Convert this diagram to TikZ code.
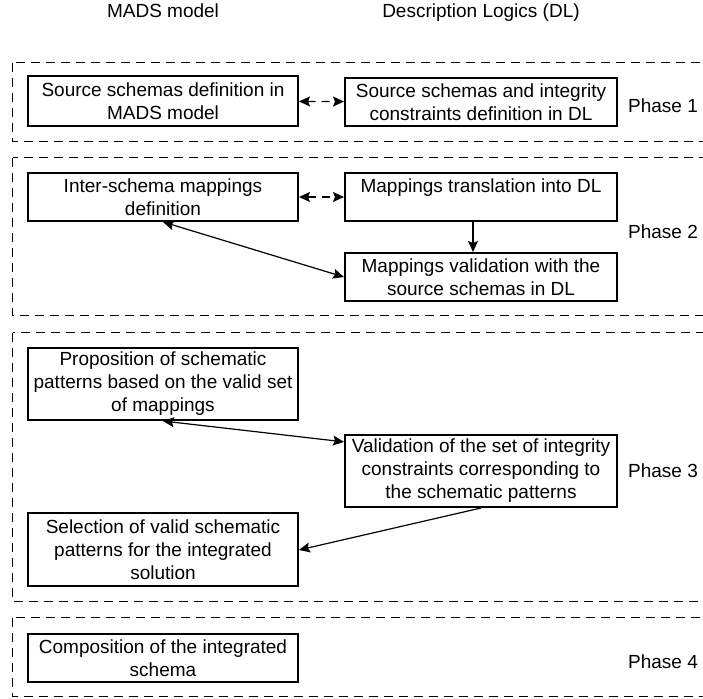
\documentclass[tikz,border=0pt]{standalone}
\usepackage{fontspec}
\setmainfont{Liberation Sans}
\usetikzlibrary{arrows.meta}

\begin{document}
\begin{tikzpicture}[x=0.5pt,y=-0.5pt,>={Stealth[length=5.5pt,width=5pt,inset=1pt]},semithick,
                    task/.style={draw,line width=1pt,align=center,minimum width=135pt,
                                 inner sep=0pt,font=\fontsize{9.5}{11.5}\selectfont},
                    phasebox/.style={draw,line width=0.5pt,dash pattern=on 4.75pt off 2.75pt},
                    headtext/.style={font=\fontsize{9.5}{11.5}\selectfont},
                    linkdash/.style={dash pattern=on 4pt off 3pt}]
  \useasboundingbox (0,0) rectangle (703,699);
  \clip (0,0) rectangle (703,699);

  % column titles
  \node[headtext,anchor=base] (hmads) at (163,18) {MADS model};
  \node[headtext,anchor=base] (hdl)   at (481,18) {Description Logics (DL)};

  % phase frames
  \draw[phasebox] (12.7,62.7) rectangle (720,141.7);
  \draw[phasebox] (12.7,158)  rectangle (720,316);
  \draw[phasebox] (12.7,333)  rectangle (720,602);
  \draw[phasebox] (12.7,618)  rectangle (720,697);

  \node[headtext] (p1) at (663,106) {Phase 1};
  \node[headtext] (p2) at (663,232) {Phase 2};
  \node[headtext] (p3) at (663,471) {Phase 3};
  \node[headtext] (p4) at (663,662) {Phase 4};

  % tasks
  \node[task,minimum height=25pt] (A1) at (163,101) {Source schemas definition in\\MADS model};
  \node[task,minimum height=24pt,minimum width=136pt] (B1) at (481,102) {Source schemas and integrity\\constraints definition in DL};
  \node[task,minimum height=24pt] (A2) at (163,197) {Inter-schema mappings\\definition};
  \node[task,minimum height=24pt,minimum width=136pt] (B2) at (481,197) {Mappings translation into DL\\~};
  \node[task,minimum height=24pt,minimum width=136pt] (B3) at (481,277) {Mappings validation with the\\source schemas in DL};
  \node[task,minimum height=36pt] (A3) at (163,384) {Proposition of schematic\\patterns based on the valid set\\of mappings};
  \node[task,minimum height=36pt,minimum width=136pt] (B4) at (481,471) {Validation of the set of integrity\\constraints corresponding to\\the schematic patterns};
  \node[task,minimum height=36.5pt] (A4) at (163,550) {Selection of valid schematic\\patterns for the integrated\\solution};
  \node[task,minimum height=24pt] (A5) at (163,658) {Composition of the integrated\\schema};

  % links
  \path[<->,linkdash] (A1) edge (B1)
                      (A2) edge (B2);
  \path[<->] (A2.south) edge (B3.west)
             (A3.south) edge (B4.168);
  \path[->]  ([xshift=-4pt]B2.south) edge ([xshift=-4pt]B3.north)
             (B4.south) edge (A4.east);
\end{tikzpicture}
\end{document}
